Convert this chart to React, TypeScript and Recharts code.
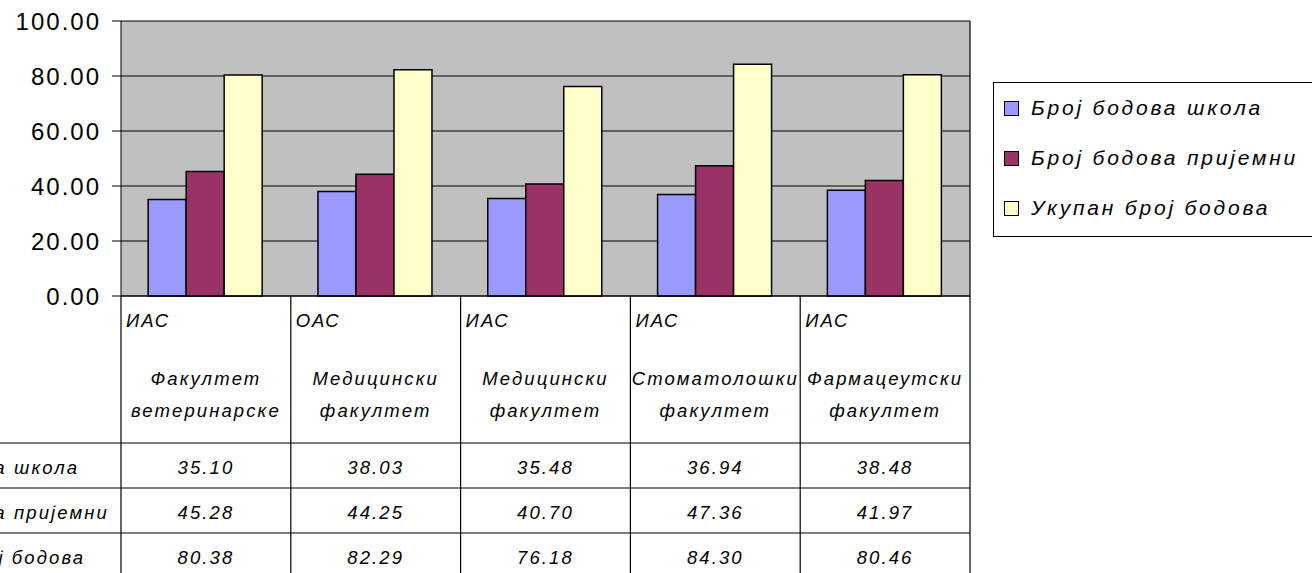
import React from 'react';
import { BarChart, Bar, XAxis, YAxis, CartesianGrid, Legend } from 'recharts';

const codes = ['ИАС', 'ОАС', 'ИАС', 'ИАС', 'ИАС'];
const facultyLine1 = ['Факултет', 'Медицински', 'Медицински', 'Стоматолошки', 'Фармацеутски'];
const facultyLine2 = ['ветеринарске', 'факултет', 'факултет', 'факултет', 'факултет'];
const school = [35.1, 38.03, 35.48, 36.94, 38.48];
const entrance = [45.28, 44.25, 40.7, 47.36, 41.97];
const total = [80.38, 82.29, 76.18, 84.3, 80.46];
const seriesNames = ['Број бодова школа', 'Број бодова пријемни', 'Укупан број бодова'];
const yTicks = [0, 20, 40, 60, 80, 100];

const COLORS = ['#9999FF', '#993366', '#FFFFCC'];
const FONT = '"Liberation Sans", Arial, sans-serif';

const data = codes.map((c, i) => ({
    key: `${c} ${facultyLine1[i]} ${facultyLine2[i]} ${i}`,
    school: school[i],
    entrance: entrance[i],
    total: total[i],
}));

const W = 1312;
const H = 573;
const PLOT_LEFT = 121;
const PLOT_RIGHT = 970;
const PLOT_TOP = 21;
const CELL = (PLOT_RIGHT - PLOT_LEFT) / codes.length;

const TableTick = (props: any) => {
    const { x, y, payload } = props;
    const i = payload.index;
    const left = x - CELL / 2;
    const right = x + CELL / 2;
    const rows = [school, entrance, total];
    const txt = { fontFamily: FONT, fontSize: 18.5, fontStyle: 'italic', letterSpacing: 2.1, fill: '#000' };
    return (
        <g>
            <line x1={left} x2={left} y1={y} y2={H} stroke="#000" strokeWidth={1.2} />
            {i === codes.length - 1 && (
                <line x1={right} x2={right} y1={PLOT_TOP} y2={H} stroke="#000" strokeWidth={1.2} />
            )}
            {[147, 192, 237].map((dy) => (
                <line key={dy} x1={i === 0 ? 0 : left} x2={right} y1={y + dy} y2={y + dy} stroke="#000" strokeWidth={1.2} />
            ))}
            <text x={left + 5} y={y + 31} {...txt}>{codes[i]}</text>
            <text x={x} y={y + 89} textAnchor="middle" {...txt}>{facultyLine1[i]}</text>
            <text x={x} y={y + 121} textAnchor="middle" {...txt}>{facultyLine2[i]}</text>
            {rows.map((r, k) => (
                <text key={k} x={x} y={y + 178 + k * 45} textAnchor="middle" {...txt}>
                    {r[i].toFixed(2)}
                </text>
            ))}
            {i === 0 &&
                seriesNames.map((n, k) => (
                    <text key={n} x={-119} y={y + 178 + k * 45} {...txt}>{n}</text>
                ))}
        </g>
    );
};

const LegendBox = (props: any) => {
    const items = [...props.payload].sort(
        (a: any, b: any) => seriesNames.indexOf(a.value) - seriesNames.indexOf(b.value)
    );
    return (
        <div
            style={{
                border: '1px solid #000',
                background: '#fff',
                width: 340,
                height: 155,
                boxSizing: 'border-box',
                paddingTop: 0,
                paddingLeft: 10,
                fontFamily: FONT,
                fontSize: 21,
                fontStyle: 'italic',
                letterSpacing: 2.8,
            }}
        >
            {items.map((p: any) => (
                <div key={p.value} style={{ display: 'flex', alignItems: 'center', height: 50, whiteSpace: 'nowrap' }}>
                    <span
                        style={{
                            display: 'inline-block',
                            width: 13,
                            height: 13,
                            background: p.color,
                            border: '1.5px solid #000',
                            marginRight: 12,
                        }}
                    />
                    {p.value}
                </div>
            ))}
        </div>
    );
};

export default function App() {
    return (
        <div style={{ position: 'absolute', left: 0, top: 0, background: '#fff' }}>
            <BarChart
                width={W}
                height={H}
                data={data}
                margin={{ top: PLOT_TOP, right: W - PLOT_RIGHT, bottom: 0, left: 0 }}
                barCategoryGap="16%"
                barGap={0}
            >
                <CartesianGrid vertical={false} fill="#C0C0C0" stroke="#000" strokeOpacity={1} />
                <XAxis
                    dataKey="key"
                    height={H - 296}
                    tickLine={false}
                    tickSize={0}
                    tickMargin={0}
                    interval={0}
                    stroke="#000"
                    tick={<TableTick />}
                />
                <YAxis
                    width={PLOT_LEFT}
                    domain={[0, 100]}
                    ticks={yTicks}
                    tickSize={9}
                    tickMargin={11}
                    stroke="#000"
                    tickFormatter={(v: number) => v.toFixed(2)}
                    tick={{ fill: '#000', fontFamily: FONT, fontSize: 24, letterSpacing: 2 }}
                />
                <Legend
                    layout="vertical"
                    align="center"
                    verticalAlign="middle"
                    wrapperStyle={{ left: 993, top: 82, width: 340 }}
                    content={<LegendBox />}
                />
                <Bar dataKey="school" name={seriesNames[0]} fill={COLORS[0]} stroke="#000" strokeWidth={1.5} isAnimationActive={false} />
                <Bar dataKey="entrance" name={seriesNames[1]} fill={COLORS[1]} stroke="#000" strokeWidth={1.5} isAnimationActive={false} />
                <Bar dataKey="total" name={seriesNames[2]} fill={COLORS[2]} stroke="#000" strokeWidth={1.5} isAnimationActive={false} />
            </BarChart>
        </div>
    );
}
